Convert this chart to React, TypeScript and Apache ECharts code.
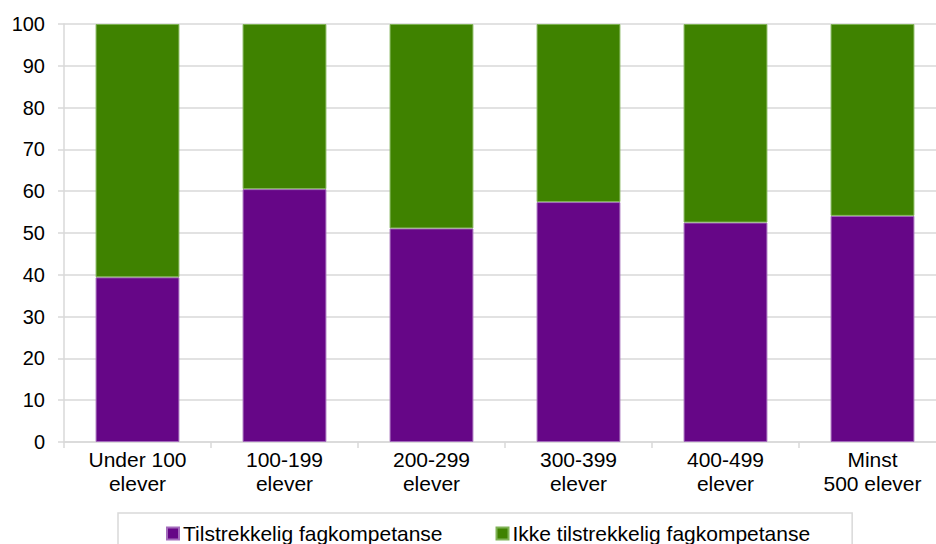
import React, { useEffect, useRef } from "react";
import * as echarts from "echarts";

const categories = ["Under 100\nelever", "100-199\nelever", "200-299\nelever", "300-399\nelever", "400-499\nelever", "Minst\n500 elever"];
const tilstrekkelig = [39.4, 60.5, 51.1, 57.4, 52.5, 54.1];
const ikkeTilstrekkelig = [60.6, 39.5, 48.9, 42.6, 47.5, 45.9];
const seriesNames = ["Tilstrekkelig fagkompetanse", "Ikke tilstrekkelig fagkompetanse"];

const FONT = "'Liberation Sans', Arial, sans-serif";

export default function App() {
  const ref = useRef<HTMLDivElement>(null);
  useEffect(() => {
    document.body.style.margin = "0";
    const chart = echarts.init(ref.current!, null, { renderer: "svg" });
    chart.setOption({
      animation: false,
      textStyle: { fontFamily: FONT },
      grid: { left: 64, top: 24, bottom: 102, right: 14, containLabel: false },
      legend: {
        left: 118,
        top: 513,
        padding: [10, 42, 20, 48],
        itemGap: 53,
        itemWidth: 12,
        itemHeight: 12,
        borderColor: "#d9d9d9",
        borderWidth: 1.5,
        icon: "rect",
        textStyle: { fontSize: 21, color: "#000", fontFamily: FONT, padding: [0, 0, 0, -1] },
        data: seriesNames,
      },
      xAxis: {
        type: "category",
        data: categories,
        axisLine: { lineStyle: { color: "#d9d9d9", width: 1.5 } },
        axisTick: { show: true, length: 6, lineStyle: { color: "#d9d9d9", width: 1.5 } },
        axisLabel: { fontSize: 21, color: "#000", lineHeight: 24, margin: 5, fontFamily: FONT, interval: 0 },
      },
      yAxis: {
        type: "value",
        min: 0,
        max: 100,
        interval: 10,
        axisLine: { show: true, lineStyle: { color: "#d9d9d9", width: 1.5 } },
        axisTick: { show: true, length: 6, lineStyle: { color: "#d9d9d9", width: 1.5 } },
        splitLine: { lineStyle: { color: "#d9d9d9", width: 1.5 } },
        axisLabel: { fontSize: 20, color: "#000", margin: 19, fontFamily: FONT },
      },
      series: [
        {
          name: seriesNames[0],
          type: "bar",
          stack: "a",
          barWidth: "57%",
          data: tilstrekkelig,
          itemStyle: { color: "#660687", borderColor: "#a36bbb", borderWidth: 1 },
        },
        {
          name: seriesNames[1],
          type: "bar",
          stack: "a",
          barWidth: "57%",
          data: ikkeTilstrekkelig,
          itemStyle: { color: "#3f8200", borderColor: "#7fb255", borderWidth: 1 },
        },
      ],
    });
    return () => chart.dispose();
  }, []);
  return (
    <div style={{ width: 936, height: 544, overflow: "hidden", position: "relative" }}>
      <div ref={ref} style={{ width: 960, height: 544 }} />
    </div>
  );
}
